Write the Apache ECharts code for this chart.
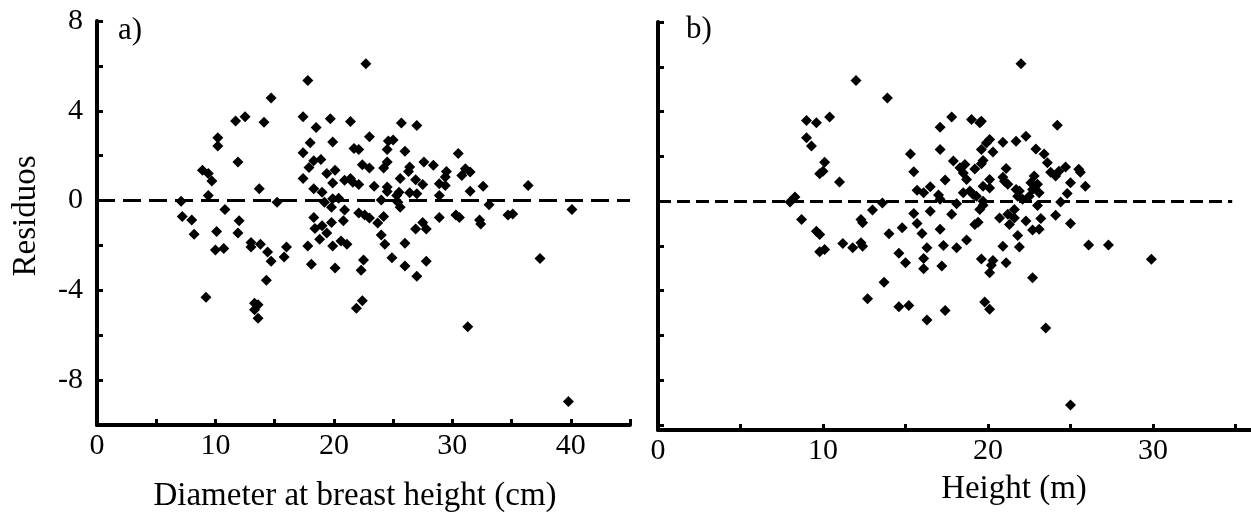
<!DOCTYPE html>
<html><head><meta charset="utf-8">
<script src="https://cdn.jsdelivr.net/npm/echarts@6/dist/echarts.min.js"></script>
<style>html,body{margin:0;padding:0;background:#fff}#c{width:1251px;height:512px}</style>
</head><body><div id="c"></div>
<script>
// Panel a) residuals vs diameter at breast height (cm)
const dbhX = [17.8,14.7,11.7,12.5,14.1,17.4,19.7,18.5,10.2,10.2,18.0,19.9,17.4,11.9,18.3,18.9,17.9,8.9,9.4,9.7,
17.4,19.4,20.1,19.9,13.7,18.3,19.0,9.4,7.1,15.2,19.2,19.9,10.8,7.2,8.0,12.0,18.3,19.8,19.8,8.2,
10.1,11.9,18.4,19.0,19.4,13.0,13.0,13.8,10.0,10.7,18.8,17.8,19.9,14.4,16.0,15.8,14.7,18.1,20.1,14.3,
9.2,13.3,13.6,13.3,13.6,22.7,21.4,25.7,27.0,23.0,24.6,25.0,21.7,22.1,24.5,26.0,30.5,22.4,23.0,24.2,
24.5,26.4,26.3,27.6,28.4,29.5,29.4,31.1,31.5,30.8,20.9,21.4,21.6,22.1,23.4,25.6,26.9,27.5,28.9,29.4,
32.6,24.5,24.5,25.5,26.4,27.0,25.3,31.5,28.9,20.4,24.0,25.4,25.6,33.1,20.9,22.1,22.6,23.0,24.2,23.7,
28.9,30.3,30.6,32.3,32.4,34.7,35.1,20.8,26.9,27.5,27.8,24.0,20.6,21.1,24.3,26.0,24.9,22.5,22.3,26.0,
27.8,27.0,22.4,21.9,31.3,37.4,39.8,36.4,40.1];
const dbhResid = [5.35,4.57,3.55,3.73,3.49,3.73,3.64,3.25,2.8,2.43,2.58,2.61,2.13,1.72,1.77,1.83,1.47,1.35,1.2,0.87,
0.98,1.2,1.35,0.78,0.53,0.53,0.37,0.22,-0.03,-0.08,-0.08,0.08,-0.4,-0.71,-0.87,-0.9,-0.75,-0.3,-0.98,-1.5,
-1.38,-1.44,-1.24,-1.12,-1.45,-1.87,-2.07,-1.95,-2.2,-2.14,-1.72,-2.02,-2.02,-2.29,-2.07,-2.52,-2.7,-2.84,-3.0,-3.55,
-4.31,-4.57,-4.64,-4.87,-5.24,6.1,3.52,3.45,3.34,2.84,2.65,2.7,2.32,2.28,2.28,2.2,2.1,1.6,1.45,1.45,
1.72,1.5,1.3,1.72,1.57,1.3,1.05,1.42,1.27,1.12,0.9,0.98,0.82,0.72,0.64,0.98,0.93,0.71,0.75,0.67,
0.64,0.6,0.4,0.37,0.35,0.3,0.22,0.42,0.22,0.1,0.03,-0.08,-0.3,-0.19,-0.42,-0.55,-0.64,-0.78,-0.71,-1.0,
-0.75,-0.64,-0.75,-0.87,-1.05,-0.64,-0.6,-0.9,-1.27,-0.98,-1.27,-1.53,-1.8,-1.95,-1.95,-1.9,-2.55,-2.65,-3.11,-2.92,
-2.7,-3.37,-4.46,-4.8,-5.62,-2.58,-8.95,0.67,-0.4];

// Panel b) residuals vs height (m)
const heightX = [8.0,8.3,8.7,9.0,9.6,10.4,9.0,9.3,10.1,9.8,10.0,11.0,12.0,13.9,9.6,9.8,9.8,10.1,11.2,11.8,
12.3,12.4,12.3,12.4,13.0,13.6,14.0,14.8,15.3,15.5,15.7,16.1,16.5,17.0,17.1,15.5,15.7,16.0,16.5,17.1,
16.3,17.3,18.1,17.1,17.1,17.8,17.9,17.4,17.8,14.6,15.0,13.7,12.7,14.6,15.2,16.3,17.4,16.1,16.1,17.2,
18.3,18.1,22.0,19.0,19.5,19.6,24.2,20.1,19.9,20.9,21.7,22.3,19.6,20.3,22.9,23.4,19.7,19.6,18.6,19.2,
18.5,18.7,21.1,20.9,21.0,21.2,20.1,20.1,19.7,18.5,18.9,19.1,19.3,19.7,21.7,21.9,21.8,22.1,22.5,22.6,
22.8,23.0,22.7,23.1,23.6,23.8,24.1,24.3,24.7,25.5,25.6,25.0,25.9,24.8,24.4,23.0,19.7,19.5,21.6,19.2,
19.4,20.7,21.2,21.6,21.3,22.3,23.2,24.1,25.0,22.7,23.1,21.8,18.7,20.9,21.9,26.1,27.3,19.6,20.3,20.2,
20.1,21.1,22.7,19.8,20.1,23.5,29.9,25.0];
const heightResid = [-0.04,0.18,-0.82,3.6,3.5,3.76,2.83,2.46,1.74,1.22,1.34,0.86,5.39,4.61,-1.34,-1.49,-2.26,-2.16,-1.89,-2.08,
-1.86,-2.01,-0.82,-0.97,-0.4,-0.08,-1.46,-1.19,2.11,1.31,0.49,0.37,0.64,0.27,0.08,-0.55,-1.0,-1.44,-0.45,-1.26,
-2.08,-1.98,-2.08,2.31,3.3,3.76,1.79,0.94,-0.59,-2.33,-2.75,-3.62,-4.36,-4.72,-4.66,-5.31,-4.88,-2.56,-3.02,-2.9,
1.49,-0.12,6.13,3.65,3.5,3.57,3.39,2.75,2.6,2.63,2.68,2.9,2.31,2.2,2.33,2.11,1.82,1.67,1.64,1.44,
1.26,0.97,1.46,1.07,0.89,0.75,0.97,0.59,0.67,0.37,0.45,0.3,0.22,0.0,0.52,0.45,0.22,0.08,0.22,0.82,
1.12,0.75,0.52,0.37,1.71,1.29,1.12,1.34,1.52,1.42,1.29,0.82,0.67,0.34,-0.04,-0.19,-0.18,-0.37,-0.37,-1.04,
-0.94,-0.75,-0.59,-0.75,-1.04,-0.89,-0.77,-0.63,-1.0,-1.29,-1.26,-1.53,-1.74,-2.01,-2.05,-1.96,-1.96,-2.58,-2.65,-2.86,
-3.2,-2.75,-3.42,-4.5,-4.83,-5.66,-2.6,-9.1];

// Axis ticks and labels
const residTicks = [-10,-8,-6,-4,-2,0,2,4,6,8];
const residTickLabels = [-8,-4,0,4,8];
const dbhTicks = [0,5,10,15,20,25,30,35,40,45];
const dbhTickLabels = [0,10,20,30,40];
const heightTicks = [0,5,10,15,20,25,30,35];
const heightTickLabels = [0,10,20,30];
// x extent of the dashed zero reference line in each panel
const dbhZeroLine = [0, 45];
const heightZeroLine = [0, 34.8];

const zip = (xs, ys) => xs.map((x, i) => [x, ys[i]]);
const FONT = 'Liberation Serif';
const txt = (size) => ({ color: '#000', fontFamily: FONT, fontSize: size });
const axisLine = { show: true, onZero: false, lineStyle: { color: '#000', width: 4 } };

function xAxisCfg(gridIndex, max, ticks, labels, name, gap, pad) {
  return {
    type: 'value', gridIndex, min: 0, max,
    axisLine, splitLine: { show: false },
    axisTick: { show: true, inside: true, length: 6, customValues: ticks, lineStyle: { color: '#000', width: 3 } },
    axisLabel: { customValues: labels, margin: 6, ...txt(30) },
    name, nameLocation: 'middle', nameGap: gap,
    nameTextStyle: { ...txt(33), padding: pad }
  };
}
function yAxisCfg(gridIndex, min, showLabels, name) {
  return {
    type: 'value', gridIndex, min, max: 8,
    axisLine, splitLine: { show: false },
    axisTick: { show: true, inside: true, length: 6, customValues: residTicks, lineStyle: { color: '#000', width: 3 } },
    axisLabel: { show: showLabels, customValues: residTickLabels, margin: 14, ...txt(30) },
    name: name, nameLocation: 'middle', nameGap: 54, nameRotate: 90,
    nameTextStyle: { ...txt(33), padding: [0, 0, 0, 14] }
  };
}
function scatter(idx, data) {
  return { type: 'scatter', xAxisIndex: idx, yAxisIndex: idx, data, symbol: 'diamond', symbolSize: 11,
           itemStyle: { color: '#000', opacity: 1 }, z: 3 };
}
function zeroLine(idx, ext, dash) {
  return { type: 'line', xAxisIndex: idx, yAxisIndex: idx, data: [], silent: true,
    markLine: { silent: true, symbol: 'none', label: { show: false },
      lineStyle: { color: '#000', width: 3, type: dash, opacity: 1 },
      data: [[{ coord: [ext[0], 0] }, { coord: [ext[1], 0] }]] } };
}

const chart = echarts.init(document.getElementById('c'), null, { renderer: 'canvas' });
chart.setOption({
  animation: false,
  backgroundColor: '#fff',
  grid: [
    { left: 97, top: 21, width: 533, height: 404, outerBoundsMode: 'none', containLabel: false },
    { left: 658, top: 22, width: 594, height: 408, outerBoundsMode: 'none', containLabel: false }
  ],
  xAxis: [
    xAxisCfg(0, 45, dbhTicks, dbhTickLabels, 'Diameter at breast height (cm)', 55, [0, 17, 0, 0]),
    xAxisCfg(1, 36, heightTicks, heightTickLabels, 'Height (m)', 43, [0, 0, 0, 118])
  ],
  yAxis: [
    yAxisCfg(0, -10, true, 'Residuos'),
    yAxisCfg(1, -10.22, false, '')
  ],
  graphic: [
    { type: 'text', left: 118, top: 15, style: { text: 'a)', font: '31px "Liberation Serif"', fill: '#000' } },
    { type: 'text', left: 686, top: 14, style: { text: 'b)', font: '31px "Liberation Serif"', fill: '#000' } }
  ],
  series: [
    zeroLine(0, dbhZeroLine, [18, 8]),
    zeroLine(1, heightZeroLine, [13, 6]),
    scatter(0, zip(dbhX, dbhResid)),
    scatter(1, zip(heightX, heightResid))
  ]
});
</script></body></html>
